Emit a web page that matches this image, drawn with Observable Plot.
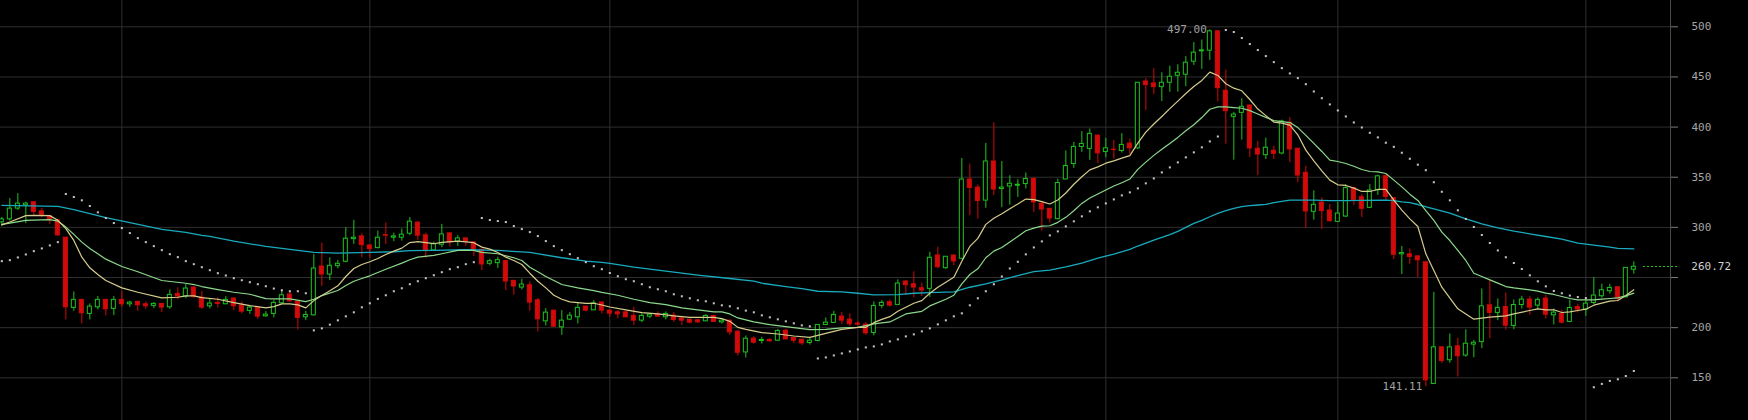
<!DOCTYPE html>
<html><head><meta charset="utf-8">
<script src="https://cdn.jsdelivr.net/npm/d3@7"></script>
<script src="https://cdn.jsdelivr.net/npm/@observablehq/plot@0.6"></script>
<style>
html,body{margin:0;padding:0;background:#000;}
#chart{width:1748px;height:420px;}
#chart [aria-label="y-axis tick"]{stroke:#7a7a7a;}
</style></head><body><div id="chart"></div>
<script>
// ---- daily candles (index 0..204) ----
const opens = [
305,308,318.7,322,325,316,311,307,289.7,219.7,
227.7,213.7,220.3,227.7,218.7,227.7,223.3,225.7,223.3,221.7,
223.7,220.3,233.7,231,240,230,221.3,224.7,223.3,229,
222,216.7,219.7,211.3,213.7,224.3,233,225.7,210.3,212.3,
261,253,261.3,265.7,288.3,291,282,279.3,292.3,289.7,
289.7,293.7,304.7,292,277,282.7,294,285.7,289,285,
277.7,263.7,264.3,266.3,246.7,240,242.3,227.3,206.3,217,
200.3,208,210.3,221,217.3,225,217,215.3,215.3,211.7,
207,211,213,210.3,212,209.3,208,207.3,206.3,211.7,
205.3,207,196,175.3,189,186.7,187.7,187,197,189.7,
188,184.7,186.7,202.7,204.7,211,208,204,203,194.7,
221.7,225.3,222.7,246,243.3,239.3,238.7,272,259.3,272,
268.7,347.7,339.7,326.7,365.7,338.3,340.8,341.5,343.2,348.5,
323.5,318.5,308.2,347.8,363.2,380.2,378.2,391.5,375.2,377.5,
376.2,383.5,378.8,445.5,443.5,439.8,444.2,451.2,452.2,465.2,
475.5,476.2,495.5,436.2,410.2,414.2,421.5,378.4,372,376.4,
373.7,404.3,378.4,354.4,315.5,324.8,316.8,305.5,310.8,339.1,
330.1,319.5,337,351,329.1,273.1,273.1,271.1,265.2,143.9,
180.4,167.5,181.4,172.2,183.1,185.6,222.3,214.7,220.6,201.7,
222.6,228,222,229,212.3,213.6,205.7,220.6,218,224.6,
231.3,236.3,240.3,230.3,257.8];
const highs = [
310,328.7,333.7,325,325.7,318.7,311.5,307.7,290,235.7,
228,223.7,231,228,231,236,226.3,226,225.7,225,
224,237.7,239.7,243,240.7,236.3,228.3,229.7,231,229.7,
225.7,221,220.3,216,227,237,235,226,216.3,273,
284.3,269.7,267,299.7,307,293.7,282.3,296.3,304.3,294.3,
298.3,309.7,305.7,294.3,285.3,303,295,291.7,289.3,285.3,
278,268.3,270.3,266.7,247,248.3,245.7,229,219,217,
217,215,224.3,221,227,225.7,217,217,216,220.3,
213.7,214.3,215.7,215.7,215,209.3,208,208,213,212.3,
208.3,207.3,197,191.7,191,190.3,189,198.3,198.3,190,
188,189.7,203,209.7,216.3,215,213.7,206.3,205,225.7,
227,227.7,247.7,247,255.7,244.3,275,280.3,270.7,272,
368.7,363,342.3,383.7,404.3,365.7,351.5,347.5,354.2,348.5,
324.8,318.5,348.2,376.2,384.8,395.5,398.2,392,388.8,386.8,
393.5,388.2,444.2,448.2,458.2,454.2,460.8,462.2,470.2,484.2,
486.8,497,496,456.8,414.8,428.2,422,385.7,389,381,
406.9,409.5,378.4,361,336.5,329.5,322.8,324.8,342.5,340,
332.8,342.8,352.2,352.2,329.5,281,278.5,271.1,265.2,235.3,
180.4,193.7,189.4,197.9,187.4,238.6,247,228.6,234.6,227.6,
231.3,231.3,229.6,232.3,218.6,217.6,227.6,223.3,228.6,250,
243.3,243.3,240.3,260,265.7];
const lows = [
301,306.3,317,303.7,312,309.7,303,291,207.7,216.3,
203.7,207.7,217.7,211.7,212,220.3,220.3,216.3,218.3,219,
215,218.3,227.7,229,229,218.3,218.7,219.7,223,217,
213.7,213.3,208.3,210.3,209.7,223.7,225,197.7,207,211.7,
241,247,258.7,264.7,283,269.7,269,278.7,283,285.7,
286.3,291.7,287,268.7,277,279.7,280.3,281,281,271,
257,261.7,259,237,232.3,237.7,216.3,195.7,201.7,200.3,
192.3,207,203.7,215.7,217,213.7,210.3,208.7,210,202.3,
205,209,210.3,207.7,205.3,202.3,203.7,204.3,206,205.3,
203.7,192.3,171.7,169.7,183.7,183.7,185.7,186.3,188,184.3,
182.3,182.7,186,202,204.3,203,201,201.7,192.3,191.7,
219,220.3,222.3,232.3,229.7,231,230.3,258.7,258.3,261.7,
267.7,311.7,308.3,319,331.7,319.7,322.2,329.8,338.2,314.8,
296.2,304.2,307.5,347.5,358.8,374.8,366.8,363.5,369.5,368.2,
374.2,372.8,377.5,416.2,432.2,425.5,434.8,434.8,440.2,461.5,
457.5,466.5,425,383,367,387,369.7,351.7,367.7,367.7,
372.4,364.4,344.4,299,307.2,298,305,305.2,309.8,321.8,
309.8,318.9,331.9,327.1,267.8,253,263.2,249.8,141.11,143.9,
164.2,164.5,150.8,170.5,170,179,189,207,197.6,198,
218.6,212.3,218.6,208.6,202.6,203.6,205,214.6,211.3,223,
229.3,233.3,225.6,229.6,253.3];
const closes = [
308,318.7,323.7,323.7,315.3,312,308,292,220.3,227.7,
214.3,221,227.7,218.3,227.7,223.3,225,222.3,221.3,223.7,
220,232.7,231,239,231,220,224,223.7,227.7,221.3,
216,220,211,213,224.7,232.3,226.3,209.7,212.7,259,
253,261.7,263.7,288.7,289.7,282.3,278.3,289.7,291.7,291,
292.7,305.7,291.7,277,283.3,293,285,289,285.7,277.7,
263,266.3,267.3,246,241,243,225,208.3,215,201,
207,212,219.7,217,224.3,217,214,213.3,210.3,207,
211.7,213,211,213.7,207.7,207,205,205.3,211.7,205.7,
207,195.3,175,189,185,187.7,186.3,196.7,188.3,187,
184.3,187,202.7,205,212.7,207,203.3,203,194.3,221.7,
224.7,222,244,242.3,240,237,269.7,260.3,270.7,266,
347.7,339.3,326.3,365.7,337.7,339.7,343.5,342.5,348.2,324.8,
317.8,308.8,344.2,361.2,380.2,383.2,393.2,373.8,378.8,377.2,
382.2,378.8,444.2,441.8,439.8,444.2,450.2,454.2,464.2,474.2,
476.5,495.5,438.8,415.8,412.5,420.2,378.7,372.7,379.4,373.4,
405.6,377.7,351.7,315.9,322.5,316.2,306.2,313.8,339.1,327.5,
318.5,336.8,350.9,330.4,272.7,274.4,270.5,267.2,147.5,180.4,
166.8,180.4,171.5,184,185,221.3,214.7,219.7,202,222.6,
228,220,227.7,213,215,205,219.6,218,224,232,
237.3,239.6,229,259.6,260.72];

// ---- parabolic SAR, one dot per candle ----
const sar = [
266.3,267.3,270,273,276.3,279,282,285.3,333.3,330.3,
327,321.3,315,309.3,304.3,299.3,294.3,289.3,285.3,281.3,
277.3,273.3,270.3,266.3,263.3,260.3,257.3,254.3,252,249.3,
247.3,245.3,243.3,241.3,239,237.3,236.3,236.3,234.3,197.3,
199.3,203,207.3,211.3,215.3,220.3,224.3,228.7,232.3,236.3,
239.3,243.3,246.3,249.3,252.3,255.3,258.3,260.3,263.3,265.3,
309.3,307.3,306.3,305.3,301.3,298.3,295.3,291.3,286.3,281.3,
277.3,273.3,269.3,265.3,261.3,258.3,254.5,251.3,248.3,246.3,
243.3,240.3,238.3,236.3,233.3,231.3,229.3,227.3,226.3,224.3,
222.3,221.3,219.3,217,215.3,212.3,210.3,208.3,206.3,204.3,
202.3,201.3,169.3,170.3,172.3,174.3,176.3,178.3,180.3,181.3,
183.3,186.3,188.3,191.3,193.3,196.3,199.3,203.3,207.3,211.3,
214.3,222.3,229.3,236.3,243.3,251,259,265.7,273.1,280,
286,292,296,301,306,311,316,320,323.9,327.9,
331.9,334.9,338.9,343.9,348.8,354.8,359.8,364.8,369.8,374.8,
379.8,385.7,390.6,496.8,494.8,488.8,482.8,476.8,470.8,464.8,
458.8,453.5,448.8,442.8,435.5,428.8,422.6,416.6,410.6,404.6,
399.6,394.3,389.7,384.4,380.3,374.4,368.4,362.5,357,345,
335.5,327,317,308.4,300.4,292.4,284.4,277,270.2,264.5,
258.5,252.2,246.2,241.2,236.6,234.3,232,230.5,229.5,140.6,
143.9,146.9,148.5,151.8,156.8];

// ---- moving averages: [candle index, value] ----
const fastMA = [[0,302.5],[1,305.3],[3,311.7],[4,312],[6,311.7],[7,307],[8,298.7],[9,287],[10,270.3],[11,259.7],[12,253],[13,247],[15,239.7],[17,235.3],[20,229.7],[22,230.3],[23,231.7],[24,231.7],[25,230],[27,228.3],[29,225],[31,222],[33,219.7],[34,221],[35,223.7],[36,223.7],[37,222.7],[38,219.7],[39,227],[40,232],[41,236.7],[42,241.7],[43,251],[44,259],[45,263],[46,265.7],[47,269],[48,273],[49,276.3],[50,279.3],[51,284.8],[52,285.7],[54,283.7],[55,285],[57,286.3],[59,284.7],[60,280.3],[61,278.3],[62,275],[63,270.3],[64,267],[65,263],[66,254.3],[67,246.3],[68,239.7],[69,232.3],[70,228.3],[71,225.7],[72,225],[73,224.3],[74,224.3],[75,222.6],[76,220.6],[78,217.7],[80,215],[82,213.7],[84,211.7],[86,210.3],[89,210.3],[90,209],[91,206.3],[92,200.3],[93,198.3],[95,195],[97,193.7],[99,191.7],[101,190.3],[103,194.3],[105,198.3],[107,200.3],[108,200.3],[109,205],[110,208.3],[111,211],[112,216.3],[113,220.3],[114,224.3],[115,227],[116,234.3],[117,240.3],[118,245.3],[119,250.3],[120,266.3],[121,281],[122,289],[123,303],[124,309],[125,313.5],[126,318.5],[127,323.3],[128,328.2],[129,327.6],[130,325.7],[131,323.3],[132,327.3],[133,334.3],[134,343],[135,350.5],[136,357.3],[137,360.3],[138,364],[139,366.3],[140,369],[141,371.5],[142,384],[143,395],[144,403.1],[145,410.6],[146,418.4],[147,425.9],[148,433.5],[149,440.5],[150,446.5],[151,454.8],[152,451.5],[153,443.2],[154,438.8],[155,436.2],[156,427.5],[157,418],[158,411.4],[159,405],[160,404],[161,402],[162,392.3],[163,377],[164,366.4],[165,356.4],[166,347.1],[167,342.4],[168,341.8],[169,339.1],[170,335.8],[171,335.8],[172,337.8],[173,337.8],[174,327.2],[175,317.2],[176,308.5],[177,300.9],[178,273.6],[179,257],[180,240.4],[182,218.8],[184,208.5],[186,210.5],[188,211.8],[189,213.8],[191,217.1],[192,218.8],[193,217.8],[194,217.8],[195,215.1],[196,215.8],[197,217.1],[198,218.4],[199,222.4],[200,224.4],[201,226.4],[202,227.1],[203,232],[204,237.7]];
const midMA = [[0,303],[1,304.3],[3,307],[6,307.7],[7,306.3],[8,300.3],[9,293],[10,285.3],[11,279],[13,268.3],[15,261],[17,255.7],[20,247],[23,244.3],[24,243],[25,241],[26,239.5],[27,238],[29,235.3],[31,233.3],[33,229],[34,228.7],[36,228.7],[38,226],[39,228.3],[40,232],[42,237],[43,242],[44,246.3],[45,249],[46,251.7],[48,258.3],[50,264.3],[51,267.7],[52,270.3],[54,272],[55,273.7],[57,277],[59,277],[60,275],[62,273.7],[63,271.7],[64,269.7],[65,267],[66,260.3],[67,255.7],[68,251],[69,247],[70,243],[72,239.7],[74,237],[75,235.2],[77,232.3],[79,228.3],[81,225],[83,223],[85,219.7],[87,217.7],[89,215.7],[90,215.7],[91,213.7],[92,209.7],[94,205.7],[96,203],[98,201],[100,199],[101,198],[103,198.3],[105,199.7],[107,200.3],[109,203.7],[111,205.7],[113,213.7],[115,216.3],[116,221.7],[118,228.3],[119,232.3],[120,243.7],[121,253],[122,258.7],[123,269.7],[124,276.3],[125,280],[126,285.5],[127,291],[128,296.6],[129,299.3],[130,301.3],[131,301.6],[132,305],[133,310],[134,316.6],[135,323.9],[136,329.2],[137,333.2],[138,337.2],[139,341.2],[140,344.5],[141,348.2],[142,357.8],[143,365.1],[144,371.8],[145,377.8],[146,383.7],[147,389.7],[148,396.4],[149,402.3],[150,409.5],[151,417.8],[152,420.2],[153,420.2],[154,419.5],[155,418.8],[156,416.4],[157,413],[158,409.7],[159,406.4],[160,405.5],[161,404.5],[162,399.5],[163,391.8],[164,383.7],[165,375.7],[166,367.1],[167,365.7],[168,363.7],[169,361],[170,357.7],[171,355.7],[172,355.4],[173,353.7],[174,347.1],[175,340.4],[176,333.1],[177,326.8],[178,316.8],[179,306.9],[180,295.2],[181,286.9],[182,277],[183,267],[184,254.3],[185,251],[186,247.7],[187,244.4],[188,241],[189,239.7],[191,237.7],[192,236.4],[193,234.4],[194,233.1],[195,231.1],[196,229.1],[197,227.7],[199,227.7],[200,228.4],[201,229.1],[202,229.7],[203,231.7],[204,234.4]];
const slowMA = [[0,322],[7,321],[9,317.7],[13,309.7],[16,304.7],[20,298],[23,295],[25,292],[26,291],[29,286.3],[33,281],[37,277],[39,275],[42,274.3],[46,275],[49,275.7],[51,276.8],[54,277],[58,277.7],[62,277],[66,275],[70,269.7],[73,266.3],[75,265],[76,264],[79,260.3],[83,256.3],[87,252.3],[91,249],[94,246.3],[95,244.3],[98,241],[100,239],[102,236.3],[105,235.7],[107,234.3],[109,232.7],[112,233],[114,234.3],[116,235],[119,235.7],[121,240.3],[123,243.7],[125,247.6],[127,251.8],[129,255.8],[131,257.4],[133,260.7],[135,264.4],[137,269.4],[139,273.4],[141,278],[142,281.4],[144,287.3],[146,292.7],[147,296],[148,300],[149,304],[150,307],[151,310.6],[152,314],[153,316.6],[154,319],[155,320.6],[156,321.6],[157,322.3],[158,322.9],[159,324.6],[160,325.9],[161,327.2],[164,327.2],[166,326.6],[168,326.6],[170,326.9],[173,327.2],[174,326.6],[175,325.5],[176,324.6],[177,322.8],[179,318.5],[181,314.2],[183,308.5],[185,303.5],[187,299.5],[189,296.2],[191,293.6],[193,290.9],[195,288.2],[197,284.2],[199,282.3],[201,280.3],[202,279],[204,278.6]];

// ---- axis / annotations ----
const monthStarts = [15, 46, 76, 107, 138, 167, 198];
const yTicks = [150, 200, 250, 300, 350, 400, 450, 500];
const yTickLabels = ["150", "200", "", "300", "350", "400", "450", "500"];
const peakMark = {i: 151, value: 497.00, label: "497.00"};
const troughMark = {i: 178, value: 141.11, label: "141.11"};
const lastMark = {i: 204, value: 260.72, label: "260.72"};

const GREEN = "#1fc21f", RED = "#d20a0a";
const YELLOW = "#d4cd8c", LIGHTGREEN = "#8cd98c", CYAN = "#18aabd";

const candles = opens.map((o, i) => ({i, open: o, high: highs[i], low: lows[i], close: closes[i]}));
const upC = candles.filter(d => d.close >= d.open);
const downC = candles.filter(d => d.close < d.open);
const sarPts = sar.map((v, i) => ({i, v}));

const chart = Plot.plot({
  width: 1748, height: 420,
  marginTop: 0, marginBottom: 0, marginLeft: 0, marginRight: 78,
  style: {background: "#000", color: "#a6a6a6", fontFamily: "'DejaVu Sans Mono', monospace", fontSize: "11px", overflow: "visible"},
  x: {type: "linear", domain: [0, 204], range: [1.33, 1633.33], axis: null},
  y: {type: "linear", domain: [150, 500], range: [377.3, 26.3], axis: "right", ticks: yTicks,
      tickSize: 7, tickPadding: 14, label: null, tickFormat: d => yTickLabels[yTicks.indexOf(d)]},
  marks: [
    Plot.ruleX(monthStarts, {stroke: "#2f2f2f"}),
    Plot.ruleY(yTicks, {stroke: "#2f2f2f"}),
    Plot.ruleX(upC, {x: "i", y1: "low", y2: "high", stroke: GREEN}),
    Plot.ruleX(downC, {x: "i", y1: "low", y2: "high", stroke: RED}),
    Plot.rect(upC, {x1: d => d.i - 0.25, x2: d => d.i + 0.25, y1: "open", y2: "close", fill: "#000", stroke: GREEN, strokeWidth: 1}),
    Plot.rect(downC, {x1: d => d.i - 0.25, x2: d => d.i + 0.25, y1: "open", y2: "close", fill: RED, stroke: RED, strokeWidth: 1}),
    Plot.line(slowMA, {x: d => d[0], y: d => d[1], stroke: CYAN, strokeWidth: 1.3}),
    Plot.line(midMA, {x: d => d[0], y: d => d[1], stroke: LIGHTGREEN, strokeWidth: 1.2}),
    Plot.line(fastMA, {x: d => d[0], y: d => d[1], stroke: YELLOW, strokeWidth: 1.2}),
    Plot.dot(sarPts, {x: "i", y: "v", symbol: "square", r: 1.15, fill: "#c4c4c4", stroke: null}),
    Plot.text([peakMark], {x: "i", y: "value", text: "label", textAnchor: "end", dx: -3, fill: "#a0a0a0"}),
    Plot.text([troughMark], {x: "i", y: "value", text: "label", textAnchor: "end", dx: -3.5, fill: "#a0a0a0"}),
    Plot.text([lastMark], {x: "i", y: "value", text: "label", textAnchor: "start", dx: 57.5, fill: "#d2d2d2"})
  ]
});

document.getElementById("chart").appendChild(chart);
const svg = d3.select(chart);
const yLast = chart.scale("y").apply(lastMark.value);
svg.append("line").attr("x1", 1670.5).attr("x2", 1670.5).attr("y1", 0).attr("y2", 420)
  .attr("stroke", "#4a4a4a").attr("stroke-width", 1);
svg.append("line").attr("x1", 1643).attr("x2", 1677).attr("y1", Math.round(yLast) + 0.5).attr("y2", Math.round(yLast) + 0.5)
  .attr("stroke", GREEN).attr("stroke-width", 1).attr("stroke-dasharray", "2,2");
</script>
</body></html>
